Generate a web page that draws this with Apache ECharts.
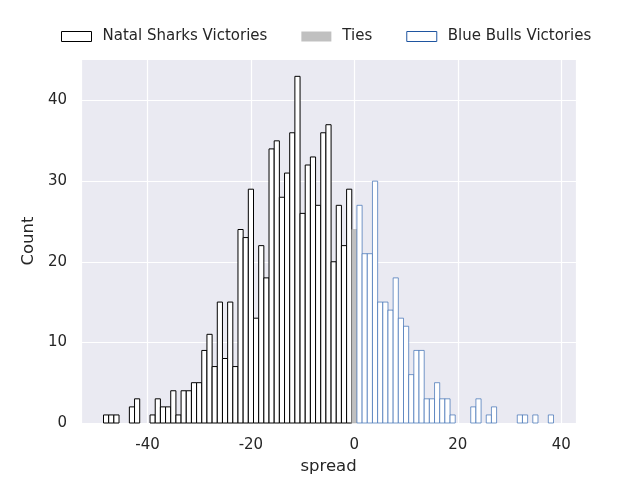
<!DOCTYPE html>
<html>
<head>
<meta charset="UTF-8">
<title>Spread histogram</title>
<script src="https://cdn.jsdelivr.net/npm/echarts@6/dist/echarts.min.js"></script>
<style>
    body { margin: 0; padding: 0; background: #fff; }
    #chart { width: 640px; height: 480px; }
</style>
</head>
<body>
<div id="chart"></div>
<script>
    // spread values (bin centres, bin width 1) and counts
    var sharksSpread = [-48, -47, -46, -45, -44, -43, -42, -41, -40, -39, -38, -37, -36, -35, -34, -33,
        -32, -31, -30, -29, -28, -27, -26, -25, -24, -23, -22, -21, -20, -19, -18, -17,
        -16, -15, -14, -13, -12, -11, -10, -9, -8, -7, -6, -5, -4, -3, -2, -1];
    var sharksCount = [1, 1, 1, 0, 0, 2, 3, 0, 0, 1, 3, 2, 2, 4, 1, 4,
        4, 5, 5, 9, 11, 7, 15, 8, 15, 7, 24, 23, 29, 13, 22, 18,
        34, 35, 28, 31, 36, 43, 26, 32, 33, 27, 36, 37, 20, 27, 22, 29];

    var tiesSpread = [0];
    var tiesCount = [24];

    var bullsSpread = [1, 2, 3, 4, 5, 6, 7, 8, 9, 10, 11, 12, 13, 14, 15, 16, 17, 18, 19,
        20, 21, 22, 23, 24, 25, 26, 27, 28, 29, 30, 31, 32, 33, 34, 35, 36, 37, 38];
    var bullsCount = [27, 21, 21, 30, 15, 15, 14, 18, 13, 12, 6, 9, 9, 3, 3, 5, 3, 3, 1,
        0, 0, 0, 2, 3, 0, 1, 2, 0, 0, 0, 0, 1, 1, 0, 1, 0, 0, 1];

    var seriesNames = ['Natal Sharks Victories', 'Ties', 'Blue Bulls Victories'];

    function pairs(xs, ys) {
        return xs.map(function (x, i) { return [x, ys[i]]; });
    }

    function histBars(fill, edge, edgeWidth) {
        return function (params, api) {
            var x = api.value(0), y = api.value(1);
            if (!y) return null;
            var p0 = api.coord([x - 0.5, y]);
            var p1 = api.coord([x + 0.5, 0]);
            return {
                type: 'rect',
                shape: { x: p0[0], y: p0[1], width: p1[0] - p0[0], height: p1[1] - p0[1] },
                style: { fill: fill, stroke: edge, lineWidth: edgeWidth }
            };
        };
    }

    var chart = echarts.init(document.getElementById('chart'));
    var labelColor = '#262626';
    var font = 'DejaVu Sans';

    chart.setOption({
        backgroundColor: '#fff',
        animation: false,
        textStyle: { fontFamily: font },
        legend: {
            top: 24,
            left: 56,
            itemWidth: 30,
            itemHeight: 10,
            itemGap: 34,
            textStyle: { color: labelColor, fontSize: 15, fontFamily: font, padding: [0, 0, 0, 6] },
            data: [
                { name: seriesNames[0], icon: 'rect', itemStyle: { color: '#fff', borderColor: '#000', borderWidth: 1 } },
                { name: seriesNames[1], icon: 'rect', itemStyle: { color: '#c0c0c0', borderWidth: 0 } },
                { name: seriesNames[2], icon: 'rect', itemStyle: { color: '#fff', borderColor: '#1f55a0', borderWidth: 1 } }
            ]
        },
        grid: {
            left: 81, right: 64, top: 59, bottom: 53,
            show: true, backgroundColor: '#eaeaf2', borderWidth: 0
        },
        xAxis: {
            type: 'value',
            min: -52.85,
            max: 42.85,
            splitNumber: 5,
            name: 'spread',
            nameLocation: 'middle',
            nameGap: 35,
            nameTextStyle: { color: labelColor, fontSize: 16.5, fontFamily: font },
            axisLine: { show: false },
            axisTick: { show: false },
            axisLabel: { color: labelColor, fontSize: 15, fontFamily: font, margin: 15,
                showMinLabel: false, showMaxLabel: false },
            splitLine: { show: true, lineStyle: { color: '#fff', width: 1.2 } }
        },
        yAxis: {
            type: 'value',
            min: 0,
            max: 45.15,
            interval: 10,
            name: 'Count',
            nameLocation: 'middle',
            nameGap: 36,
            nameTextStyle: { color: labelColor, fontSize: 16.5, fontFamily: font },
            axisLine: { show: false },
            axisTick: { show: false },
            axisLabel: { color: labelColor, fontSize: 15, fontFamily: font, margin: 14,
                showMaxLabel: false },
            splitLine: { show: true, lineStyle: { color: '#fff', width: 1.2 } }
        },
        series: [
            {
                name: seriesNames[0], type: 'custom',
                itemStyle: { color: '#000' },
                renderItem: histBars('#fff', '#000', 1),
                encode: { x: 0, y: 1 },
                data: pairs(sharksSpread, sharksCount)
            },
            {
                name: seriesNames[1], type: 'custom',
                itemStyle: { color: '#c0c0c0' },
                renderItem: histBars('#c0c0c0', '#a8a8a8', 0.5),
                encode: { x: 0, y: 1 },
                data: pairs(tiesSpread, tiesCount)
            },
            {
                name: seriesNames[2], type: 'custom',
                itemStyle: { color: '#1f55a0' },
                renderItem: histBars('#fff', '#3b6db3', 0.7),
                encode: { x: 0, y: 1 },
                data: pairs(bullsSpread, bullsCount)
            }
        ]
    });
</script>
</body>
</html>
